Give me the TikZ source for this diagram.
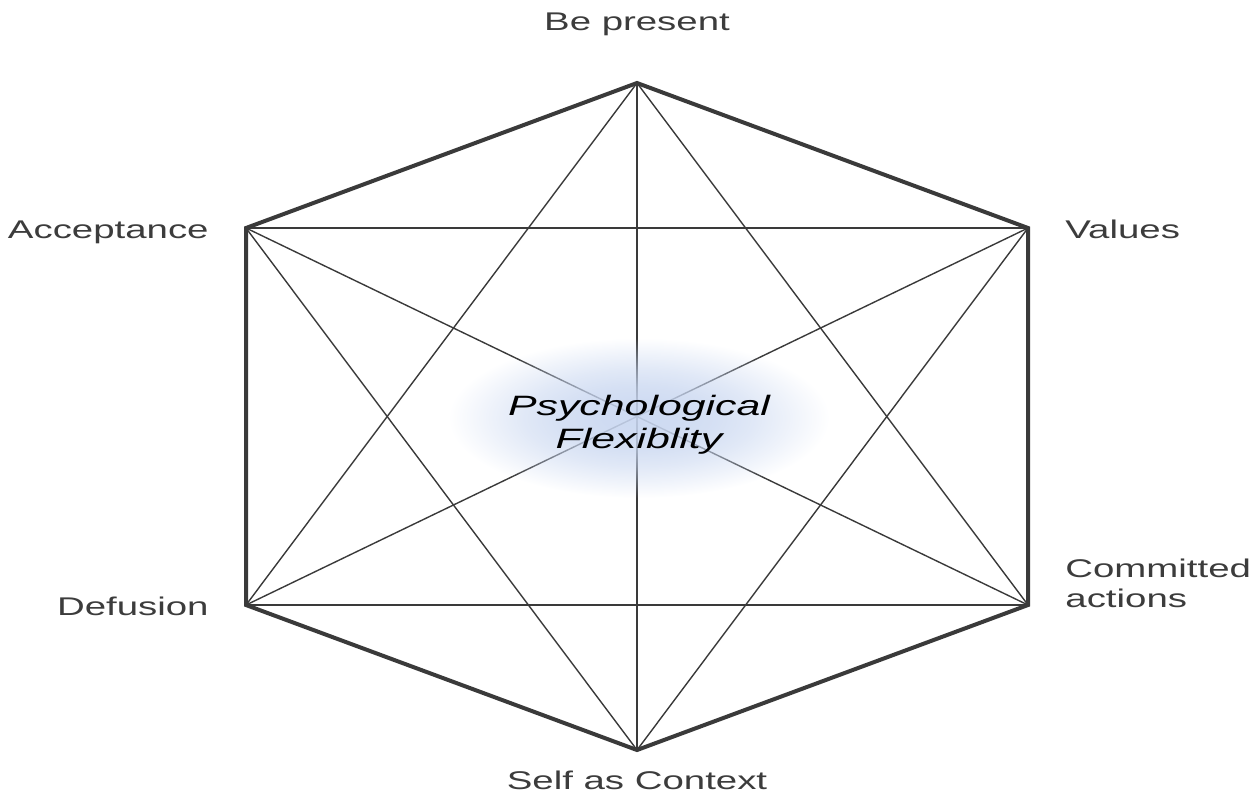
\documentclass[tikz,border=0pt]{standalone}
\usepackage{fontspec}
\setmainfont{Liberation Sans}
\usepackage{graphicx}
\usetikzlibrary{fadings}
\definecolor{txt}{HTML}{3C3C3C}
\definecolor{edge}{HTML}{3A3A3A}
\definecolor{glow}{RGB}{200,214,240}
\pgfdeclareradialshading{glowmaskshade}{\pgfpoint{0bp}{0bp}}{%
  color(0bp)=(pgftransparent!0);
  color(5bp)=(pgftransparent!4);
  color(10bp)=(pgftransparent!16);
  color(15bp)=(pgftransparent!38);
  color(20bp)=(pgftransparent!68);
  color(25bp)=(pgftransparent!100);
  color(50bp)=(pgftransparent!100)}
\pgfdeclarefading{softglow}{\pgfuseshading{glowmaskshade}}
\newcommand{\wide}[1]{\scalebox{1.5}[1.0]{#1}}
\newcommand{\widec}[1]{\scalebox{1.53}[1.0]{#1}}
\tikzset{
  hexedge/.style={draw=edge, line width=2pt, line join=miter},
  diag/.style={draw=edge, line width=0.7pt},
  lab/.style={text=txt, font=\fontsize{12.8}{15}\selectfont, inner sep=0pt},
  ctr/.style={text=black, font=\fontsize{14}{17}\selectfont\itshape, inner sep=0pt, anchor=base},
}
\begin{document}
\begin{tikzpicture}[x=0.5pt,y=-0.5pt]
\useasboundingbox (0,0) rectangle (1251,794);
\coordinate (T) at (637,83);
\coordinate (UL) at (246,228);
\coordinate (UR) at (1028,228);
\coordinate (LL) at (246,605);
\coordinate (LR) at (1028,605);
\coordinate (B) at (637,750);
% diagonals
\draw[diag] (T) -- (B);
\draw[diag] (T) -- (LL);
\draw[diag] (T) -- (LR);
\draw[diag] (UL) -- (UR);
\draw[diag] (UL) -- (LR);
\draw[diag] (UL) -- (B);
\draw[diag] (UR) -- (LL);
\draw[diag] (UR) -- (B);
\draw[diag] (LL) -- (LR);
% hexagon
\draw[hexedge] (T) -- (UR) -- (LR) -- (B) -- (LL) -- (UL) -- cycle;
% glow
\fill[glow, path fading=softglow, fill opacity=0.9] (639,418) ellipse [x radius=190, y radius=80];
% center text
\node[ctr] (center) at (639,415) {\widec{Psychological}};
\node[ctr] (center2) at (639,448) {\widec{Flexiblity}};
% labels
\node[lab, anchor=base] (bepresent) at (637,30) {\wide{Be present}};
\node[lab, anchor=base east] (accept) at (209,238) {\wide{Acceptance}};
\node[lab, anchor=base west] (values) at (1065,238) {\wide{Values}};
\node[lab, anchor=base east] (defusion) at (209,615) {\wide{Defusion}};
\node[lab, anchor=base west] (committed) at (1065,577) {\wide{Committed}};
\node[lab, anchor=base west] (actions) at (1065,607) {\wide{actions}};
\node[lab, anchor=base] (self) at (637,789) {\wide{Self as Context}};
\end{tikzpicture}
\end{document}
